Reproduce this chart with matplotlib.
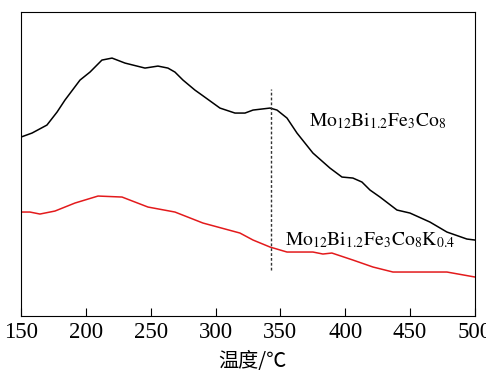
import matplotlib.pyplot as plt
import numpy as np

plt.rcParams['mathtext.fontset'] = 'stix'
plt.rcParams['font.family'] = ['Liberation Serif', 'DejaVu Serif']

# temperature (C) and signal (a.u.)
t_black = [150, 158.5, 170.0, 177.8, 183.9, 195.5, 203.2, 212.4, 220.2, 230.2,
           245.6, 255.6, 263.3, 268.7, 274.9, 284.1, 289.5, 303.4, 315.0, 322.7,
           328.9, 342.0, 347.4, 355.1, 362.8, 375.1, 388.2, 397.5, 405.9, 412.9,
           419.1, 426.8, 439.9, 449.9, 465.3, 478.4, 493.8, 500]
y_black = [179, 183, 191, 204, 216, 236, 244, 256, 258, 253,
           248, 250, 248, 244, 236, 226, 221, 208, 203, 203,
           206, 208, 206, 198, 183, 163, 148, 139, 138, 134,
           126, 119, 106, 103, 94, 84, 77, 76]

t_red = [150, 156.9, 164.6, 176.2, 191.6, 209.4, 227.9, 247.9, 268.7, 290.3,
         318.8, 328.9, 342.0, 355.1, 375.1, 382.8, 389.7, 405.9, 421.4, 436.8,
         457.6, 478.4, 500]
y_red = [104, 104, 102, 105, 113, 120, 119, 109, 104, 93,
         83, 76, 69, 64, 64, 62, 63, 56, 49, 44,
         44, 44, 39]

t_mark = 342.5
xticks = [150, 200, 250, 300, 350, 400, 450, 500]

fig = plt.figure(figsize=(4.86, 3.72), dpi=100)
ax = fig.add_axes([0.0432, 0.1505, 0.934, 0.817])

ax.plot(t_black, y_black, color='black', lw=1.1)
ax.plot(t_red, y_red, color='#e31a1c', lw=1.1)
ax.plot([t_mark, t_mark], [46, 227], color='#333333', lw=1.0, ls=(0, (2, 1.5)))

ax.text(372, 195, r'$\mathrm{Mo_{12}Bi_{1.2}Fe_{3}Co_{8}}$',
        fontsize=14, va='center', ha='left')
ax.text(353.5, 76, r'$\mathrm{Mo_{12}Bi_{1.2}Fe_{3}Co_{8}K_{0.4}}$',
        fontsize=14, va='center', ha='left')

ax.set_xlim(150, 500)
ax.set_ylim(0, 304)
ax.set_xticks(xticks)
ax.set_yticks([])
ax.tick_params(axis='x', direction='in', length=6, labelsize=16.5, pad=4)
ax.set_xlabel('温度/℃', family=['Noto Sans CJK SC', 'DejaVu Sans'], fontsize=14.5,
              labelpad=6, x=0.51)

fig.savefig('out.png', dpi=100, facecolor='white')
